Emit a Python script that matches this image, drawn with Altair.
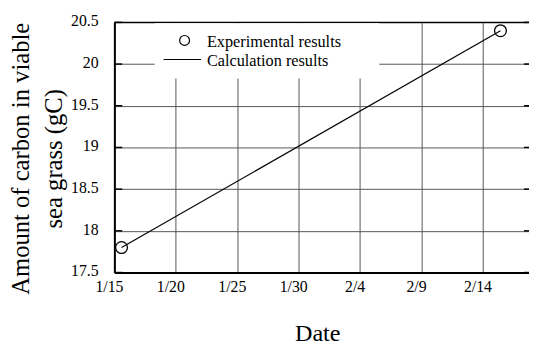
import altair as alt
import pandas as pd

# ---- data ----
exp_dates = ["2023-01-15T14:00:00", "2023-02-15T10:30:00"]
exp_values = [17.8, 20.4]
calc_dates = ["2023-01-15T14:00:00", "2023-02-15T10:30:00"]
calc_values = [17.8, 20.4]
x_tick_dates = [(1, 15), (1, 20), (1, 25), (1, 30), (2, 4), (2, 9), (2, 14)]
x_tick_labels = ["1/15", "1/20", "1/25", "1/30", "2/4", "2/9", "2/14"]
y_ticks = [17.5, 18, 18.5, 19, 19.5, 20, 20.5]
y_tick_labels = ["17.5", "18", "18.5", "19", "19.5", "20", "20.5"]
legend_labels = ["Experimental results", "Calculation results"]
x_title = "Date"
y_title = ["Amount of carbon in viable", "sea grass (gC)"]

W, H = 421, 254
FONT = "Liberation Serif"
GRID = "#555555"

exp_df = pd.DataFrame({"date": exp_dates, "value": exp_values})
calc_df = pd.DataFrame({"date": calc_dates, "value": calc_values})
tick_df = pd.DataFrame({"value": y_ticks, "label": y_tick_labels})
xtick_df = pd.DataFrame({
    "date": [f"2023-{m:02d}-{d:02d}T00:00:00" for m, d in x_tick_dates],
    "label": x_tick_labels,
})
leg1_df = pd.DataFrame({"label": [legend_labels[0]]})
leg2_df = pd.DataFrame({"label": [legend_labels[1]]})
one_df = pd.DataFrame({"label": [""]})

x_scale = alt.Scale(
    domain=[alt.DateTime(year=2023, month=1, date=15),
            alt.DateTime(year=2023, month=2, date=17, hours=18, minutes=15)],
    nice=False,
)
y_scale = alt.Scale(domain=[17.5, 20.5], nice=False, zero=False)

x_axis = alt.Axis(
    values=[alt.DateTime(year=2023, month=m, date=d) for m, d in x_tick_dates],
    title=x_title,
    grid=True, gridColor=GRID, gridWidth=1,
    domain=True, domainColor="black", domainWidth=2,
    ticks=False, tickSize=0, labels=False,
    titleFont=FONT, titleFontSize=24.5, titleFontWeight="normal", titleColor="black",
    titleX=206, titleY=69, titleAlign="center", titleBaseline="alphabetic",
)
y_axis = alt.Axis(
    values=y_ticks,
    title=y_title,
    grid=True, gridColor=GRID, gridWidth=1,
    domain=True, domainColor="black", domainWidth=2,
    ticks=False, tickSize=0, labels=False,
    titleFont=FONT, titleFontSize=25, titleFontWeight="normal", titleColor="black",
    titleAngle=270, titleX=-107, titleY=138, titleAlign="center",
    titleBaseline="top", titleLineHeight=33,
)

X = alt.X("date:T", scale=x_scale, axis=x_axis)
Y = alt.Y("value:Q", scale=y_scale, axis=y_axis)

box = alt.Chart(one_df).mark_rect(color="white").encode(
    x=alt.value(41), x2=alt.value(269), y=alt.value(1), y2=alt.value(57)
)

line = alt.Chart(calc_df).mark_line(color="black", strokeWidth=1.2).encode(x=X, y=Y)

points = alt.Chart(exp_df).mark_point(
    shape="circle", filled=False, size=144, color="black", strokeWidth=1.3, opacity=1
).encode(x=X, y=Y)

top_frame = alt.Chart(one_df).mark_rule(color="black", strokeWidth=1.5).encode(
    y=alt.datum(20.5), x=alt.value(0), x2=alt.value(W)
)

left_ticks = alt.Chart(tick_df).mark_rule(color="black", strokeWidth=1.5).encode(
    y=Y, x=alt.value(0), x2=alt.value(8)
)
right_ticks = alt.Chart(tick_df).mark_rule(color="black", strokeWidth=1.5).encode(
    y=Y, x=alt.value(W - 5), x2=alt.value(W)
)

y_labels = alt.Chart(tick_df).mark_text(
    align="right", baseline="middle", font=FONT, fontSize=16, color="black", dy=-1
).encode(y=Y, x=alt.value(-16), text="label:N")

x_labels = alt.Chart(xtick_df).mark_text(
    align="center", baseline="alphabetic", font=FONT, fontSize=16, color="black", dx=-5
).encode(x=X, y=alt.value(H + 20), text="label:N")

leg_circle = alt.Chart(one_df).mark_point(
    shape="circle", filled=False, size=100, color="black", strokeWidth=1.2, opacity=1
).encode(x=alt.value(71.3), y=alt.value(18.3))

leg_line = alt.Chart(one_df).mark_rule(color="black", strokeWidth=1.2).encode(
    x=alt.value(50), x2=alt.value(88), y=alt.value(37.7)
)

leg_text1 = alt.Chart(leg1_df).mark_text(
    align="left", baseline="alphabetic", font=FONT, fontSize=16.5, color="black"
).encode(text="label:N", x=alt.value(94), y=alt.value(24.5))
leg_text2 = alt.Chart(leg2_df).mark_text(
    align="left", baseline="alphabetic", font=FONT, fontSize=16.5, color="black"
).encode(text="label:N", x=alt.value(94), y=alt.value(44))

chart = alt.layer(
    box, line, points, top_frame, left_ticks, right_ticks, y_labels, x_labels,
    leg_circle, leg_line, leg_text1, leg_text2,
).properties(
    width=W, height=H,
    autosize=alt.AutoSizeParams(type="none"),
    padding={"left": 108, "top": 12, "right": 0, "bottom": 72},
    background="white",
).configure_view(
    stroke="transparent"
)

chart.save("out.html", embed_options={"renderer": "svg", "actions": False})
